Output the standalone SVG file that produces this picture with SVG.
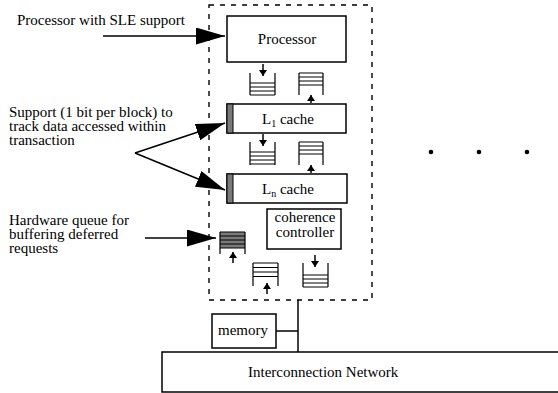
<svg xmlns="http://www.w3.org/2000/svg" width="558" height="393" viewBox="0 0 558 393" font-family="'Liberation Serif', 'Times New Roman', 'DejaVu Serif', serif">
<defs>
<style>
text{font-family:'Liberation Serif','Times New Roman','DejaVu Serif',serif;font-size:15px;fill:#000}
.box{fill:#fff;stroke:#000;stroke-width:1.5}
.ln{fill:none;stroke:#000;stroke-width:1.5}
.q{fill:none;stroke:#000;stroke-width:1.2}
.bar{fill:#7a7a7a;stroke:#000;stroke-width:1}
.dash{fill:none;stroke:#000;stroke-width:1.4;stroke-dasharray:5 6}
.mid{text-anchor:middle}
</style>
<marker id="big" markerUnits="userSpaceOnUse" markerWidth="30" markerHeight="18" refX="29" refY="8.5" orient="auto"><path d="M0,0 L29,8.5 L0,17 z" fill="#000"/></marker>
<marker id="sm" markerUnits="userSpaceOnUse" markerWidth="8" markerHeight="8" refX="6" refY="4" orient="auto"><path d="M0,0 L6,4 L0,8 z" fill="#000"/></marker>
</defs>
<rect class="dash" x="209" y="5" width="163" height="295"/>
<g id="processor"><rect class="box" x="227" y="16" width="119" height="46"/><text class="mid" x="287" y="44">Processor</text></g>
<g id="l1cache"><rect class="box" x="227" y="104" width="119" height="29"/><rect class="bar" x="227" y="104" width="6" height="29"/><text class="mid" x="288" y="124">L<tspan font-size="10" dy="3">1</tspan><tspan dy="-3"> cache</tspan></text></g>
<g id="lncache"><rect class="box" x="227" y="174" width="120" height="29"/><rect class="bar" x="227" y="174" width="6" height="29"/><text class="mid" x="288" y="194">L<tspan font-size="10" dy="3">n</tspan><tspan dy="-3"> cache</tspan></text></g>
<g id="coherence"><rect class="box" x="267" y="209" width="74" height="40"/><text class="mid" x="305" y="222">coherence</text><text class="mid" x="305" y="237">controller</text></g>
<g id="queue1"><path class="q" d="M250,73 V95 M275,73 V95 M250,83 H275 M250,87 H275 M250,91 H275 M250,95 H275"/></g>
<g id="queue2"><path class="q" d="M299,73 V95 M323,73 V95 M299,73 H323 M299,77 H323 M299,81 H323 M299,85 H323"/></g>
<g id="queue3"><path class="q" d="M250,142 V165 M275,142 V165 M250,152 H275 M250,156 H275 M250,160 H275 M250,164 H275"/></g>
<g id="queue4"><path class="q" d="M299,142 V165 M323,142 V165 M299,142 H323 M299,146 H323 M299,150 H323 M299,154 H323"/></g>
<g id="hwqueue"><rect x="220" y="232" width="25" height="16" fill="#7a7a7a"/><path class="q" d="M220,232 V254 M245,232 V254 M220,232 H245 M220,236 H245 M220,240 H245 M220,244 H245 M220,248 H245"/></g>
<g id="queue5"><path class="q" d="M253,263 V286 M278,263 V286 M253,263 H278 M253,267.5 H278 M253,272 H278 M253,276.5 H278"/></g>
<g id="queue6"><path class="q" d="M303,263 V287 M328,263 V287 M303,275 H328 M303,279 H328 M303,283 H328 M303,287 H328"/></g>
<g id="memory"><rect class="box" x="212" y="314" width="64" height="34"/><text class="mid" x="243" y="335">memory</text></g>
<g id="network"><rect class="box" x="162" y="352" width="400" height="40"/><text x="248" y="377">Interconnection Network</text></g>
<g id="dots"><circle cx="431" cy="152" r="2.3"/><circle cx="479" cy="152" r="2.3"/><circle cx="527" cy="152" r="2.3"/></g>
<g id="labels">
<text x="17" y="25">Processor with SLE support</text>
<text x="9" y="117">Support (1 bit per block) to</text>
<text x="9" y="131">track data accessed within</text>
<text x="9" y="145">transaction</text>
<text x="9" y="225">Hardware queue for</text>
<text x="9" y="239">buffering deferred</text>
<text x="9" y="253">requests</text>
</g>
<g id="connectors">
<line class="ln" x1="103" y1="36" x2="225" y2="36" marker-end="url(#big)"/>
<line class="ln" x1="135" y1="153" x2="225" y2="123" marker-end="url(#big)"/>
<line class="ln" x1="135" y1="153" x2="225" y2="190" marker-end="url(#big)"/>
<line class="ln" x1="145" y1="238" x2="216" y2="238" marker-end="url(#big)"/>
<line class="ln" x1="263" y1="64" x2="263" y2="76" marker-end="url(#sm)"/>
<line class="ln" x1="311" y1="103" x2="311" y2="95" marker-end="url(#sm)"/>
<line class="ln" x1="263" y1="134" x2="263" y2="146" marker-end="url(#sm)"/>
<line class="ln" x1="311" y1="173" x2="311" y2="165" marker-end="url(#sm)"/>
<line class="ln" x1="233" y1="263" x2="233" y2="252" marker-end="url(#sm)"/>
<line class="ln" x1="267" y1="294" x2="267" y2="283" marker-end="url(#sm)"/>
<line class="ln" x1="315" y1="255" x2="315" y2="267" marker-end="url(#sm)"/>
<line class="ln" x1="298" y1="300" x2="298" y2="352"/>
<line class="ln" x1="276" y1="331" x2="298" y2="331"/>
</g>
</svg>
